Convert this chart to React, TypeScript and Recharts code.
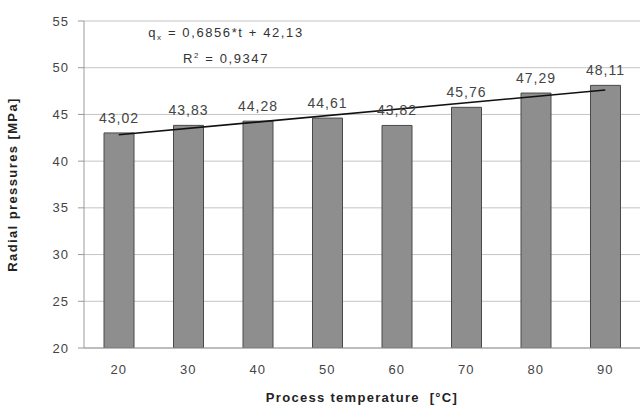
import { ComposedChart, Bar, Line, XAxis, YAxis, CartesianGrid, LabelList, Customized } from "recharts";

const temperatures = ["20", "30", "40", "50", "60", "70", "80", "90"];
const pressures = [43.02, 43.83, 44.28, 44.61, 43.82, 45.76, 47.29, 48.11];
// linear trend line, only its two ends
const trendEnds = [42.82, null, null, null, null, null, null, 47.61];
const yTicks = [20, 25, 30, 35, 40, 45, 50, 55];

const data = temperatures.map((t, i) => ({ t, value: pressures[i], trend: trendEnds[i] }));

const font = "'Liberation Sans', Arial, sans-serif";

function Equation() {
  return (
    <g fontFamily={font} fontSize={13} fill="#333" letterSpacing={1.6}>
      <text x={226} y={37} textAnchor="middle">
        q<tspan fontSize={8} dy={3}>x</tspan>
        <tspan dy={-3}> = 0,6856*t + 42,13</tspan>
      </text>
      <text x={226} y={63} textAnchor="middle">
        R<tspan fontSize={8} dy={-5}>2</tspan>
        <tspan dy={5}> = 0,9347</tspan>
      </text>
    </g>
  );
}

export default function App() {
  return (
    <div style={{ position: "absolute", left: 0, top: 0, background: "#fff" }}>
      <ComposedChart
        width={641}
        height={408}
        data={data}
        margin={{ top: 21, right: 1, left: 0, bottom: 0 }}
        style={{ fontFamily: font }}
      >
        <CartesianGrid vertical={false} stroke="#c4c4c4" />
        <XAxis
          dataKey="t"
          height={60}
          tick={{ fill: "#444", fontSize: 13, letterSpacing: 1 }}
          tickLine={false}
          tickSize={6}
          tickMargin={11}
          axisLine={{ stroke: "#999" }}
          label={{
            value: "Process temperature\u00a0 [°C]",
            position: "insideBottom",
            offset: 6,
            fill: "#222",
            fontSize: 13,
            fontWeight: "bold",
            letterSpacing: 1.3,
          }}
        />
        <YAxis
          width={84}
          domain={[20, 55]}
          ticks={yTicks}
          allowDataOverflow
          tick={{ fill: "#444", fontSize: 13, letterSpacing: 1 }}
          tickSize={6}
          tickMargin={9}
          tickLine={{ stroke: "#999" }}
          axisLine={{ stroke: "#999" }}
          label={{
            value: "Radial pressures [MPa]",
            angle: -90,
            position: "insideLeft",
            offset: 12,
            style: { textAnchor: "middle", letterSpacing: 1.4 },
            fill: "#222",
            fontSize: 13,
            fontWeight: "bold",
          }}
        />
        <Bar dataKey="value" barSize={30} fill="#8e8e8e" stroke="#4a4a4a" strokeWidth={1} isAnimationActive={false}>
          <LabelList
            dataKey="value"
            position="top"
            offset={10}
            fill="#444"
            fontSize={14}
            letterSpacing={1}
            formatter={(v: any) => String(v.toFixed(2)).replace(".", ",")}
          />
        </Bar>
        <Line
          dataKey="trend"
          stroke="#111"
          strokeWidth={1.6}
          dot={false}
          connectNulls
          isAnimationActive={false}
        />
        <Customized component={Equation} />
      </ComposedChart>
    </div>
  );
}
